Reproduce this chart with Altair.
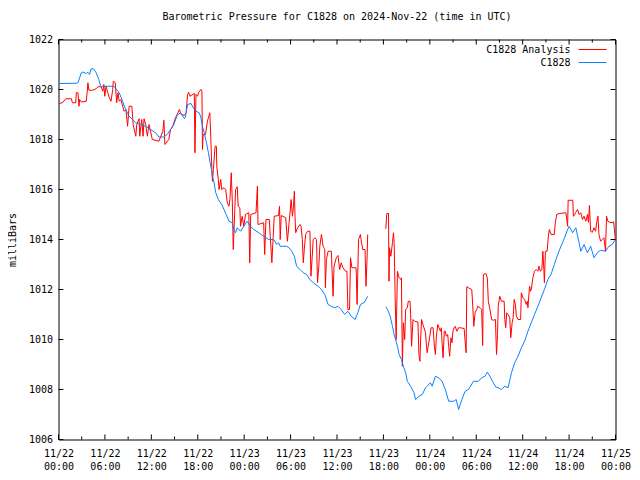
import altair as alt
import pandas as pd

MONO = "DejaVu Sans Mono"
TITLE = "Barometric Pressure for C1828 on 2024-Nov-22 (time in UTC)"
Y_TITLE = "milliBars"
SERIES = ["C1828 Analysis", "C1828"]
COLORS = ["#ff0000", "#0a80ff"]
Y_TICKS = [1006, 1008, 1010, 1012, 1014, 1016, 1018, 1020, 1022]
X_MAJOR_H = [0, 6, 12, 18, 24, 30, 36, 42, 48, 54, 60, 66, 72]
X_MINOR_H = [3, 9, 15, 21, 27, 33, 39, 45, 51, 57, 63, 69]

# (hours since 2024-11-22 00:00 UTC, mbar)
analysis_a = [
    (0.09, 1019.44), (0.51, 1019.47), (0.94, 1019.63), (1.67, 1019.63), (1.79, 1019.47),
    (2.22, 1019.47), (2.31, 1019.87), (2.52, 1019.87), (2.65, 1019.33), (2.73, 1019.6),
    (2.95, 1019.5), (3.59, 1019.53), (3.72, 1019.93), (3.80, 1020.27), (3.93, 1019.97),
    (4.40, 1019.97), (4.87, 1020.03), (5.09, 1020.11), (5.51, 1020.11), (5.73, 1019.93),
    (5.86, 1020.2), (5.98, 1019.73), (6.15, 1020.13), (6.37, 1019.87), (6.57, 1019.67),
    (6.79, 1019.53), (7.01, 1020.0), (7.08, 1020.33), (7.34, 1020.27), (7.52, 1019.47),
    (7.69, 1019.87), (7.85, 1019.53), (8.07, 1019.6), (8.29, 1019.33), (8.49, 1019.13),
    (8.71, 1019.2), (8.84, 1018.8), (8.93, 1018.53), (9.13, 1019.33), (9.48, 1019.33),
    (9.65, 1018.6), (9.99, 1018.13), (10.12, 1018.6), (10.42, 1018.83), (10.50, 1018.13),
    (10.76, 1018.8), (10.93, 1018.13), (11.06, 1018.83), (11.27, 1018.6), (11.49, 1018.13),
    (11.70, 1018.6), (12.13, 1018.0), (12.98, 1017.93), (13.49, 1018.33), (13.62, 1018.77),
    (13.75, 1017.8), (14.26, 1018.0), (14.48, 1018.4), (14.70, 1018.47), (15.12, 1018.87),
    (15.33, 1019.0), (15.63, 1019.2), (15.85, 1019.0), (16.27, 1018.97), (16.49, 1019.07),
    (16.69, 1019.8), (16.82, 1019.89), (17.00, 1019.73), (17.55, 1019.84), (17.64, 1017.47),
    (17.77, 1019.8), (17.98, 1019.73), (18.10, 1019.87), (18.41, 1020.0), (18.54, 1019.93),
    (18.61, 1017.6), (18.70, 1018.2), (19.00, 1018.2), (19.25, 1018.73), (19.38, 1018.87),
    (19.56, 1019.07), (19.69, 1018.07), (19.82, 1016.8), (19.90, 1016.33), (20.02, 1016.8),
    (20.24, 1017.73), (20.41, 1017.73), (20.46, 1016.93), (20.66, 1016.4), (20.75, 1016.0),
    (20.97, 1016.4), (21.10, 1016.0), (21.39, 1016.07), (21.61, 1016.0), (21.82, 1015.47),
    (22.03, 1015.33), (22.16, 1015.6), (22.33, 1016.67), (22.46, 1015.6), (22.59, 1013.6),
    (22.71, 1014.53), (22.89, 1016.0), (23.10, 1016.11), (23.23, 1015.33), (23.44, 1015.27),
    (23.53, 1014.53), (23.74, 1014.93), (23.96, 1014.53), (24.17, 1015.0), (24.60, 1015.07),
    (24.72, 1013.07), (24.85, 1015.0), (25.53, 1015.07), (25.62, 1015.6), (25.71, 1016.13),
    (25.79, 1014.6), (26.52, 1014.67), (26.65, 1013.4), (26.82, 1014.8), (27.25, 1014.8),
    (27.37, 1014.13), (27.58, 1013.07), (27.71, 1013.87), (27.89, 1014.93), (28.44, 1014.96),
    (28.57, 1015.33), (28.66, 1014.0), (28.79, 1014.96), (29.37, 1014.87), (29.59, 1013.93),
    (29.81, 1014.67), (30.07, 1015.6), (30.24, 1014.93), (30.36, 1015.27), (30.49, 1015.93),
    (30.58, 1014.87), (30.66, 1014.27), (30.91, 1014.47), (31.22, 1014.6), (31.35, 1014.53),
    (31.52, 1014.0), (31.64, 1013.07), (31.77, 1013.6), (31.94, 1014.2), (32.19, 1014.33),
    (32.50, 1014.33), (32.63, 1012.53), (32.80, 1013.33), (32.92, 1014.0), (33.14, 1014.07),
    (33.35, 1014.0), (33.48, 1012.27), (33.65, 1012.93), (33.78, 1013.73), (33.99, 1014.2),
    (34.21, 1013.73), (34.42, 1013.6), (34.50, 1012.07), (34.63, 1013.2), (34.85, 1013.53),
    (35.27, 1013.53), (35.49, 1011.73), (35.62, 1012.93), (35.91, 1013.27), (36.13, 1013.36),
    (36.35, 1012.8), (36.55, 1013.07), (36.77, 1012.87), (37.11, 1012.73), (37.28, 1012.73),
    (37.41, 1011.2), (37.62, 1011.2), (37.75, 1013.27), (37.92, 1012.87), (38.47, 1012.87),
    (38.60, 1011.4), (38.78, 1014.0), (39.03, 1014.2), (39.11, 1014.0), (39.33, 1013.6),
    (39.62, 1013.6), (39.75, 1012.13), (39.88, 1013.2), (39.97, 1014.2),
]

analysis_b = [
    (42.31, 1014.43), (42.44, 1015.04), (42.66, 1015.04), (42.72, 1012.33), (42.79, 1013.67),
    (42.96, 1013.33), (43.17, 1013.87), (43.30, 1014.27), (43.39, 1013.87), (43.52, 1011.6),
    (43.65, 1010.0), (43.81, 1012.73), (44.03, 1012.47), (44.24, 1012.4), (44.33, 1012.47),
    (44.45, 1008.93), (44.58, 1010.67), (44.75, 1010.0), (44.88, 1011.2), (45.09, 1011.27),
    (45.22, 1011.53), (45.44, 1011.53), (45.52, 1011.0), (45.64, 1009.73), (45.82, 1010.8),
    (46.03, 1010.73), (46.46, 1010.7), (46.59, 1009.4), (46.72, 1009.13), (46.80, 1009.9),
    (46.93, 1010.8), (47.11, 1010.6), (47.24, 1010.47), (47.44, 1010.27), (47.57, 1009.73),
    (47.66, 1009.47), (47.78, 1009.73), (48.00, 1010.13), (48.17, 1010.47), (48.42, 1010.47),
    (48.59, 1009.73), (48.72, 1009.4), (48.85, 1010.13), (49.03, 1010.6), (49.19, 1010.47),
    (49.36, 1010.33), (49.49, 1010.47), (49.58, 1009.87), (49.71, 1009.27), (49.87, 1010.33),
    (50.00, 1010.33), (50.13, 1010.13), (50.31, 1010.2), (50.44, 1009.73), (50.56, 1009.33),
    (50.73, 1010.07), (50.86, 1009.87), (50.99, 1010.33), (51.15, 1010.47), (51.28, 1010.53),
    (51.50, 1010.33), (51.72, 1010.47), (51.92, 1010.47), (52.44, 1010.44), (52.56, 1009.93),
    (52.69, 1009.47), (52.78, 1012.11), (53.00, 1012.07), (53.20, 1012.03), (53.42, 1012.0),
    (53.55, 1011.33), (53.68, 1010.53), (53.85, 1011.07), (54.06, 1011.2), (54.19, 1011.33),
    (54.49, 1011.27), (54.70, 1011.2), (54.83, 1009.76), (54.92, 1012.6), (55.25, 1012.64),
    (55.43, 1012.47), (55.56, 1011.53), (55.77, 1011.2), (55.99, 1010.8), (56.20, 1010.77),
    (56.49, 1010.8), (56.53, 1010.27), (56.62, 1009.4), (56.75, 1010.2), (56.84, 1011.33),
    (57.04, 1011.73), (57.26, 1011.53), (57.61, 1011.53), (57.69, 1010.8), (57.81, 1010.47),
    (57.94, 1011.07), (58.12, 1011.0), (58.33, 1010.87), (58.46, 1010.07), (58.64, 1010.67),
    (58.77, 1010.87), (58.90, 1011.6), (59.06, 1011.4), (59.19, 1010.93), (59.40, 1010.8),
    (59.74, 1010.8), (59.83, 1011.87), (60.04, 1011.67), (60.25, 1011.6), (60.47, 1011.4),
    (60.60, 1011.53), (60.68, 1011.27), (60.89, 1012.13), (61.02, 1011.93), (61.11, 1012.0),
    (61.32, 1012.47), (61.53, 1012.73), (61.75, 1012.8), (61.97, 1012.73), (62.10, 1012.93),
    (62.30, 1012.73), (62.48, 1012.8), (62.61, 1013.53), (62.74, 1012.8), (62.81, 1012.27),
    (62.94, 1013.53), (63.16, 1013.53), (63.32, 1014.13), (63.45, 1014.4), (63.67, 1014.2),
    (64.09, 1014.2), (64.22, 1014.67), (64.40, 1015.0), (64.73, 1015.04), (65.59, 1015.07),
    (65.81, 1014.53), (65.88, 1015.57), (66.48, 1015.57), (66.55, 1014.93), (66.65, 1014.96),
    (66.87, 1015.09), (67.09, 1015.2), (67.30, 1015.0), (67.51, 1015.07), (67.73, 1014.8),
    (67.94, 1014.93), (68.16, 1014.73), (68.37, 1015.0), (68.50, 1014.69), (68.63, 1015.36),
    (68.79, 1014.33), (69.01, 1014.29), (69.22, 1014.47), (69.43, 1014.33), (69.56, 1014.67),
    (69.73, 1014.93), (69.86, 1014.2), (70.07, 1013.93), (70.29, 1014.0), (70.50, 1014.07),
    (70.71, 1013.53), (70.84, 1014.93), (71.01, 1014.73), (71.24, 1014.69), (71.55, 1014.67),
    (71.76, 1014.71), (71.98, 1014.0),
]

station_a = [
    (0.09, 1020.24), (2.31, 1020.25), (2.52, 1020.27), (2.95, 1020.67), (3.16, 1020.7),
    (3.59, 1020.64), (3.80, 1020.69), (4.01, 1020.6), (4.23, 1020.83), (4.52, 1020.83),
    (4.87, 1020.67), (5.21, 1020.4), (5.42, 1020.16), (5.51, 1020.13), (7.17, 1020.13),
    (7.43, 1020.03), (7.85, 1019.87), (8.07, 1019.7), (8.29, 1019.53), (8.49, 1019.33),
    (8.80, 1019.13), (9.13, 1018.93), (9.57, 1018.8), (9.99, 1018.67), (10.63, 1018.6),
    (11.27, 1018.53), (11.91, 1018.4), (12.55, 1018.27), (12.98, 1018.1), (13.62, 1018.1),
    (14.05, 1018.2), (14.48, 1018.4), (14.90, 1018.6), (15.33, 1018.96), (15.76, 1019.07),
    (16.27, 1018.84), (16.40, 1018.9), (16.69, 1019.4), (17.13, 1019.44), (17.42, 1019.27),
    (17.77, 1019.13), (18.19, 1019.07), (18.41, 1018.87), (18.61, 1018.53), (18.83, 1018.27),
    (19.13, 1017.87), (19.38, 1017.47), (19.60, 1017.07), (19.77, 1016.8), (19.90, 1016.53),
    (20.11, 1016.27), (20.33, 1015.87), (20.66, 1015.6), (21.10, 1015.4), (21.39, 1015.2),
    (21.69, 1015.0), (22.03, 1014.73), (22.46, 1014.67), (22.68, 1014.4), (22.89, 1014.27),
    (23.10, 1014.47), (23.53, 1014.33), (23.96, 1014.53), (24.38, 1014.73), (24.81, 1014.53),
    (25.24, 1014.4), (25.88, 1014.27), (26.52, 1014.13), (27.16, 1014.0), (27.80, 1014.0),
    (28.22, 1013.8), (28.44, 1013.87), (28.66, 1013.73), (29.50, 1013.73), (29.81, 1013.67),
    (30.14, 1013.53), (30.49, 1013.33), (30.78, 1012.93), (31.22, 1012.8), (31.64, 1012.67),
    (32.07, 1012.6), (32.50, 1012.4), (32.92, 1012.27), (33.56, 1012.13), (33.99, 1012.0),
    (34.42, 1011.8), (34.85, 1011.4), (35.27, 1011.33), (35.70, 1011.27), (36.13, 1011.33),
    (36.55, 1011.2), (36.98, 1011.0), (37.41, 1011.13), (37.83, 1010.93), (38.34, 1010.8),
    (38.69, 1011.07), (39.03, 1011.4), (39.55, 1011.49), (39.97, 1011.73),
]

station_b = [
    (42.31, 1011.31), (42.53, 1011.2), (42.88, 1010.93), (43.17, 1010.53), (43.39, 1010.2),
    (43.81, 1009.73), (44.03, 1009.4), (44.33, 1009.2), (44.58, 1008.93), (44.88, 1008.67),
    (45.09, 1008.33), (45.52, 1008.13), (45.95, 1007.87), (46.16, 1007.6), (46.59, 1007.73),
    (47.02, 1007.8), (47.44, 1008.07), (48.08, 1008.27), (48.30, 1008.13), (48.72, 1008.53),
    (49.15, 1008.47), (49.58, 1008.33), (50.00, 1008.0), (50.44, 1007.53), (51.08, 1007.53),
    (51.41, 1007.6), (51.72, 1007.2), (52.14, 1007.6), (52.56, 1007.93), (53.00, 1008.0),
    (53.64, 1008.33), (54.28, 1008.33), (54.70, 1008.47), (55.13, 1008.53), (55.43, 1008.69),
    (55.77, 1008.53), (56.20, 1008.27), (56.53, 1008.1), (56.84, 1008.07), (57.26, 1008.0),
    (57.69, 1008.13), (58.12, 1008.07), (58.55, 1008.67), (58.97, 1009.07), (59.40, 1009.33),
    (59.83, 1009.67), (60.25, 1009.93), (60.68, 1010.33), (61.11, 1010.67), (61.53, 1011.0),
    (61.97, 1011.33), (62.39, 1011.67), (62.81, 1012.0), (63.25, 1012.4), (63.67, 1012.6),
    (64.09, 1013.0), (64.53, 1013.4), (64.95, 1013.73), (65.37, 1014.03), (65.81, 1014.4),
    (66.01, 1014.53), (66.45, 1014.27), (66.87, 1014.47), (67.30, 1013.87), (67.51, 1013.53),
    (67.94, 1013.8), (68.37, 1013.47), (68.79, 1013.73), (69.22, 1013.27), (69.65, 1013.47),
    (70.07, 1013.57), (70.71, 1013.53), (71.14, 1013.73), (71.57, 1013.8), (72.0, 1014.0),
]

BASE = pd.Timestamp("2024-11-22T00:00:00")


def iso(h):
    return (BASE + pd.Timedelta(hours=h)).strftime("%Y-%m-%dT%H:%M:%SZ")


def frame(segments):
    rows = []
    for seg, pairs in enumerate(segments):
        for h, p in pairs:
            rows.append({"t": iso(h), "p": p, "seg": seg})
    return pd.DataFrame(rows)


def udt(h, m=0):
    d = 22 + h // 24
    return alt.DateTime(year=2024, month=11, date=int(d), hours=int(h % 24), minutes=m, utc=True)


red_df = frame([analysis_a, analysis_b])
blue_df = frame([station_a, station_b])

PLOT_W = 557
PLOT_H = 400

x_scale = alt.Scale(type="utc", domain=[udt(0), udt(72)])
y_scale = alt.Scale(domain=[1006, 1022], nice=False, zero=False)

x_axis = alt.Axis(
    values=[udt(h) for h in X_MAJOR_H],
    labelExpr="[utcFormat(datum.value, '%m/%d'), utcFormat(datum.value, '%H:%M')]",
    ticks=False, domain=False, grid=False, labelPadding=9, labelLineHeight=13,
    labelBaseline="top", labelFlush=False, labelOverlap=False, labelBound=False,
)
y_axis = alt.Axis(
    values=Y_TICKS, format="d", ticks=False, domain=False, grid=False,
    labelPadding=6, titleX=-46, titleY=200, titleAngle=270,
    titleBaseline="middle", titleAlign="center",
)

x_enc = alt.X("t:T", scale=x_scale, axis=x_axis, title=None)
y_enc = alt.Y("p:Q", scale=y_scale, axis=y_axis, title=Y_TITLE)

red_line = alt.Chart(red_df).mark_line(color=COLORS[0], strokeWidth=1).encode(
    x=x_enc, y=y_enc, detail="seg:N")
blue_line = alt.Chart(blue_df).mark_line(color=COLORS[1], strokeWidth=1).encode(
    x=x_enc, y=y_enc, detail="seg:N")

# gnuplot-style inward ticks on all four sides
xmaj = pd.DataFrame({"t": [iso(h) for h in X_MAJOR_H]})
xmin = pd.DataFrame({"t": [iso(h) for h in X_MINOR_H]})
ydf = pd.DataFrame({"p": Y_TICKS})


def xticks(df, y0, y1):
    return alt.Chart(df).mark_rule(color="black", strokeWidth=1).encode(
        x=x_enc,
        y=alt.YDatum(y0, scale=y_scale, axis=y_axis, title=Y_TITLE),
        y2=alt.Y2Datum(y1),
    )


def yticks(t0, t1):
    return alt.Chart(ydf).mark_rule(color="black", strokeWidth=1).encode(
        y=y_enc,
        x=alt.XDatum(t0, type="temporal", scale=x_scale, axis=x_axis, title=None),
        x2=alt.X2Datum(t1),
    )


tick_layers = [
    xticks(xmaj, 1006, 1006.2), xticks(xmin, 1006, 1006.12),
    xticks(xmaj, 1022, 1021.8), xticks(xmin, 1022, 1021.88),
    yticks(udt(0), udt(0, 38)), yticks(udt(71, 22), udt(72)),
]

# legend (top right, label left of line sample)
legend_layers = []
for i, (name, col) in enumerate(zip(SERIES, COLORS)):
    ly = 10 + 13 * i
    legend_layers.append(
        alt.Chart(pd.DataFrame({"label": [name]})).mark_text(
            align="right", baseline="middle", font=MONO, fontSize=10, color="black"
        ).encode(x=alt.value(PLOT_W - 45), y=alt.value(ly), text="label:N")
    )
    legend_layers.append(
        alt.Chart(pd.DataFrame({"label": [name]})).mark_rule(color=col, strokeWidth=1).encode(
            x=alt.value(PLOT_W - 37), x2=alt.value(PLOT_W - 9), y=alt.value(ly))
    )

chart = alt.layer(red_line, blue_line, *tick_layers, *legend_layers).properties(
    width=PLOT_W,
    height=PLOT_H,
    title=alt.TitleParams(TITLE, font=MONO, fontSize=10, fontWeight="normal",
                          anchor="middle", frame="group", offset=3, baseline="bottom",
                          color="black"),
    padding={"left": 50.5, "top": 31.5, "right": 16, "bottom": 32},
    autosize=alt.AutoSizeParams(type="none"),
).configure_view(
    stroke="black", strokeWidth=1
).configure_axis(
    labelFont=MONO, labelFontSize=10, labelColor="black",
    titleFont=MONO, titleFontSize=10, titleFontWeight="normal", titleColor="black",
)

chart.save("out.html", embed_options={"renderer": "svg", "actions": False})
